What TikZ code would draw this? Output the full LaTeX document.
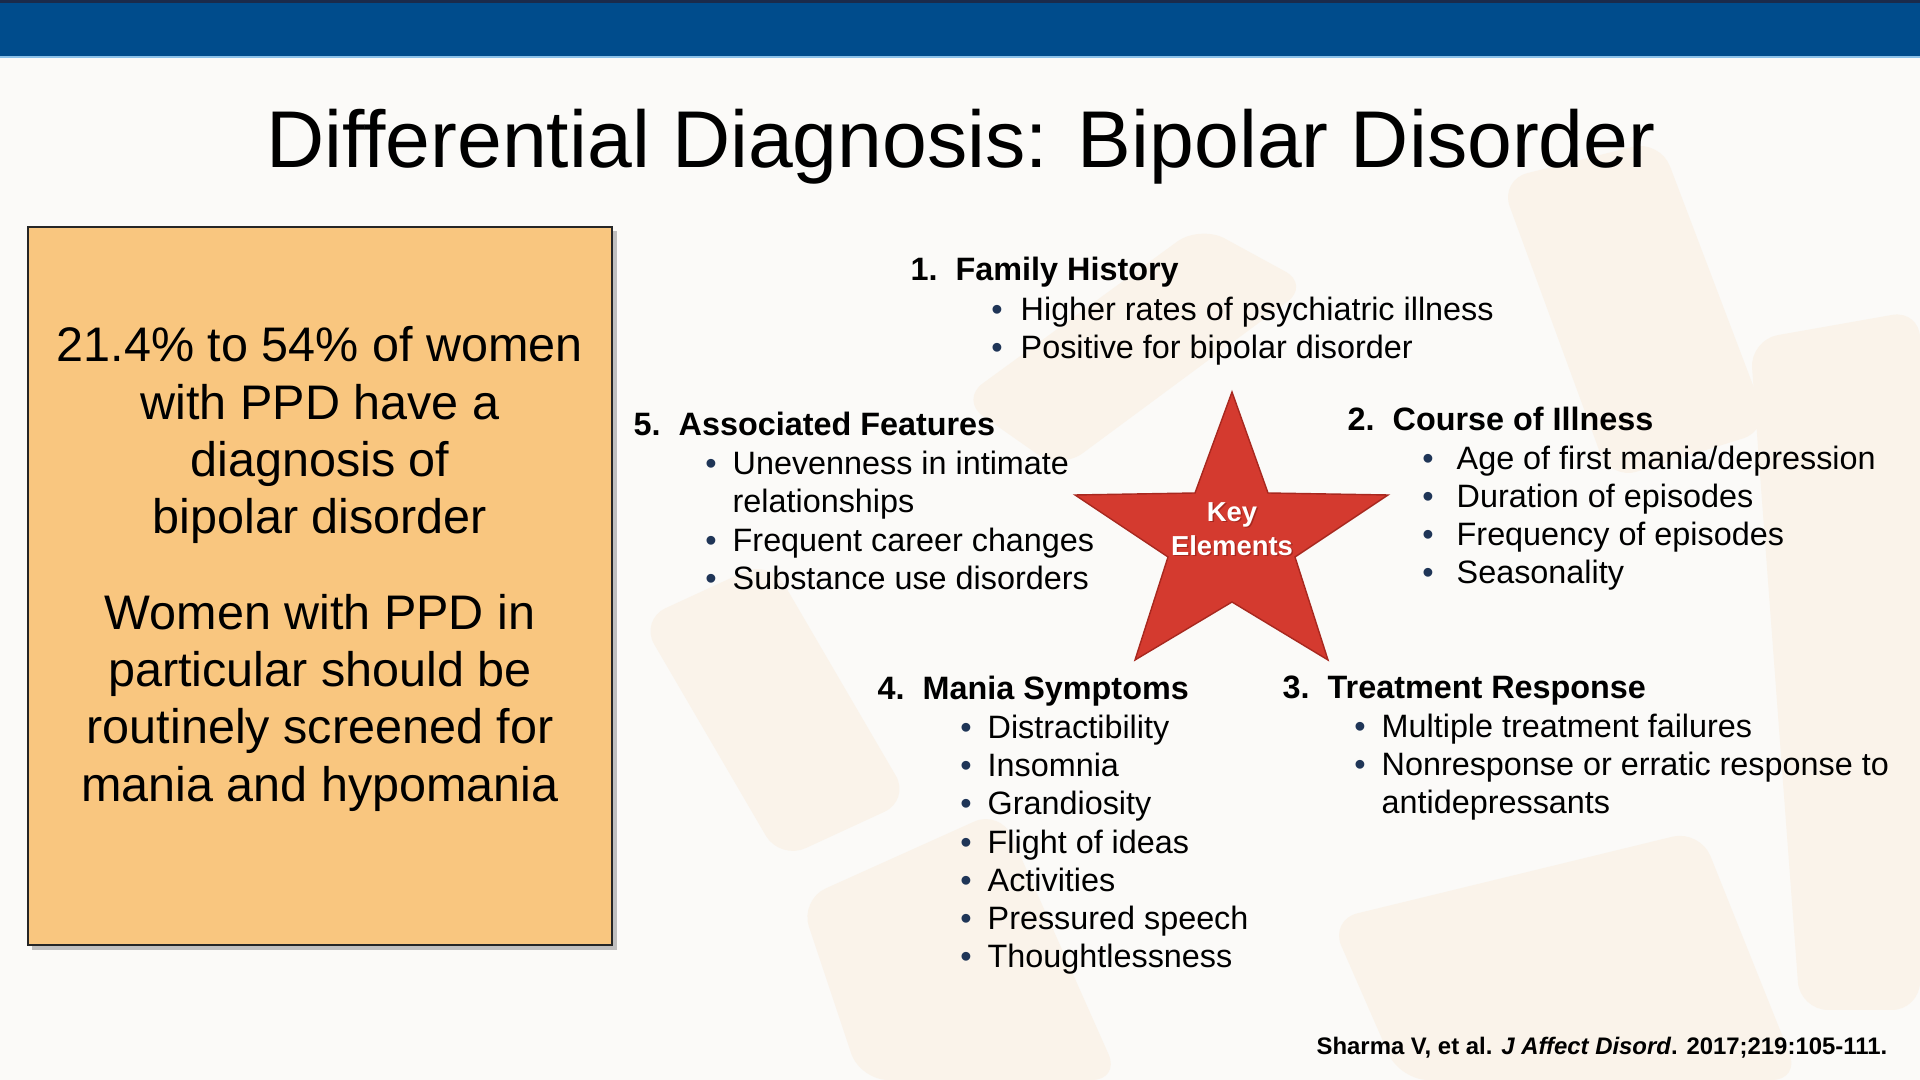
\documentclass[tikz,border=0pt]{standalone}
\usepackage{fontspec}
\setmainfont{Liberation Sans}
\usetikzlibrary{positioning}
\definecolor{barblue}{HTML}{004C8C}
\definecolor{bardark}{HTML}{1B2B4B}
\definecolor{barlight}{HTML}{8CC2EA}
\definecolor{pagewhite}{HTML}{FBFAF8}
\definecolor{markbeige}{HTML}{FAF3EA}
\definecolor{boxorange}{HTML}{F9C67F}
\definecolor{starred}{HTML}{D43A2F}
\definecolor{stardark}{HTML}{A8281F}
\definecolor{bulletnavy}{HTML}{1F3557}
\newcommand{\bul}[1][0.16cm]{\llap{\textcolor{bulletnavy}{\textbullet}\hspace{#1}}}
\newcommand{\itemhead}[2]{\makebox[0.45cm][l]{#1}#2}

\begin{document}
\begin{tikzpicture}[x=0.01cm, y=-0.01cm,
    listline/.style={anchor=base west, inner sep=0pt, font=\fontsize{9.2}{10.9}\selectfont},
    listhead/.style={listline, font=\fontsize{9.2}{10.9}\selectfont\bfseries}]
    % Page
    \fill[pagewhite] (0,0) rectangle (1920,1080);
    \useasboundingbox (0,0) rectangle (1920,1080);

    % Watermark
    \fill[markbeige, rounded corners=8pt] (960,400) -- (1200,225) -- (1310,285) -- (1060,470) -- cycle;
    \fill[markbeige, rounded corners=8pt] (1500,180) -- (1660,140) -- (1770,430) -- (1610,480) -- cycle;
    \fill[markbeige, rounded corners=8pt] (1750,340) -- (1920,310) -- (1920,1010) -- (1800,1010) -- cycle;
    \fill[markbeige, rounded corners=8pt] (640,620) -- (770,560) -- (910,800) -- (780,860) -- cycle;
    \fill[markbeige, rounded corners=8pt] (800,900) -- (1000,810) -- (1120,1080) -- (860,1080) -- cycle;
    \fill[markbeige, rounded corners=8pt] (1330,920) -- (1700,830) -- (1800,1080) -- (1400,1080) -- cycle;

    % Top bar
    \fill[barblue] (0,0) rectangle (1920,56);
    \fill[bardark] (0,0) rectangle (1920,3);
    \fill[barlight] (0,56) rectangle (1920,58);

    % Title
    \node[anchor=base, inner sep=0pt, font=\fontsize{22.9}{27}\selectfont] (title) at (961,168)
        {Differential Diagnosis: Bipolar Disorder};

    % Left box
    \fill[black!40, opacity=0.6] (32,231) rectangle (617,950);
    \draw[fill=boxorange, draw=black!85, line width=0.6pt] (28,227) rectangle (612,945);
    \node[align=center, inner sep=0pt, font=\fontsize{13.8}{16.3}\selectfont] (boxtext) at (320,569)
        {21.4\% to 54\% of women\\with PPD have a\\diagnosis of\\bipolar disorder\\[0.38cm]
         Women with PPD in\\particular should be\\routinely screened for\\mania and hypomania};

    % Star
    \fill[starred, draw=stardark, line width=0.4pt] (1232,392) -- (1268,493) -- (1388,495)
        -- (1295,557) -- (1328,660) -- (1232,602) -- (1135,660) -- (1168,557)
        -- (1075,495) -- (1195,493) -- cycle;
    \node[align=center, inner sep=0pt, text=stardark, font=\fontsize{7.8}{9.6}\selectfont\bfseries]
        (keyshadow) at (1233.5,530.5) {Key\\Elements};
    \node[align=center, inner sep=0pt, text=white, font=\fontsize{7.8}{9.6}\selectfont\bfseries]
        (keytext) at (1232,529) {Key\\Elements};

    % 1. Family History
    \node[listhead] (fam-head) at (910,281) {\itemhead{1.}{Family History}};
    \node[listline] (fam-1) at (1020,321) {\bul[0.18cm]Higher rates of psychiatric illness};
    \node[listline] (fam-2) at (1020,359) {\bul[0.18cm]Positive for bipolar disorder};

    % 2. Course of Illness
    \node[listhead] (course-head) at (1347,431) {\itemhead{2.}{Course of Illness}};
    \node[listline] (course-1) at (1456,470) {\bul[0.23cm]Age of first mania/depression};
    \node[listline] (course-2) at (1456,508) {\bul[0.23cm]Duration of episodes};
    \node[listline] (course-3) at (1456,546) {\bul[0.23cm]Frequency of episodes};
    \node[listline] (course-4) at (1456,584) {\bul[0.23cm]Seasonality};

    % 3. Treatment Response
    \node[listhead] (treat-head) at (1282,699) {\itemhead{3.}{Treatment Response}};
    \node[listline] (treat-1) at (1381,738) {\bul Multiple treatment failures};
    \node[listline] (treat-2) at (1381,776) {\bul Nonresponse or erratic response to};
    \node[listline] (treat-2b) at (1381,814) {antidepressants};

    % 4. Mania Symptoms
    \node[listhead] (mania-head) at (877,700) {\itemhead{4.}{Mania Symptoms}};
    \node[listline] (mania-1) at (987,739) {\bul Distractibility};
    \node[listline] (mania-2) at (987,777) {\bul Insomnia};
    \node[listline] (mania-3) at (987,815) {\bul Grandiosity};
    \node[listline] (mania-4) at (987,854) {\bul Flight of ideas};
    \node[listline] (mania-5) at (987,892) {\bul Activities};
    \node[listline] (mania-6) at (987,930) {\bul Pressured speech};
    \node[listline] (mania-7) at (987,968) {\bul Thoughtlessness};

    % 5. Associated Features
    \node[listhead] (assoc-head) at (633,436) {\itemhead{5.}{Associated Features}};
    \node[listline] (assoc-1) at (732,475) {\bul Unevenness in intimate};
    \node[listline] (assoc-1b) at (732,513) {relationships};
    \node[listline] (assoc-2) at (732,552) {\bul Frequent career changes};
    \node[listline] (assoc-3) at (732,590) {\bul Substance use disorders};

    % Reference
    \node[anchor=base east, inner sep=0pt, font=\fontsize{6.8}{8}\selectfont\bfseries] (cite) at (1888,1055)
        {Sharma V, et al. \textit{J Affect Disord}. 2017;219:105-111.};
\end{tikzpicture}
\end{document}
